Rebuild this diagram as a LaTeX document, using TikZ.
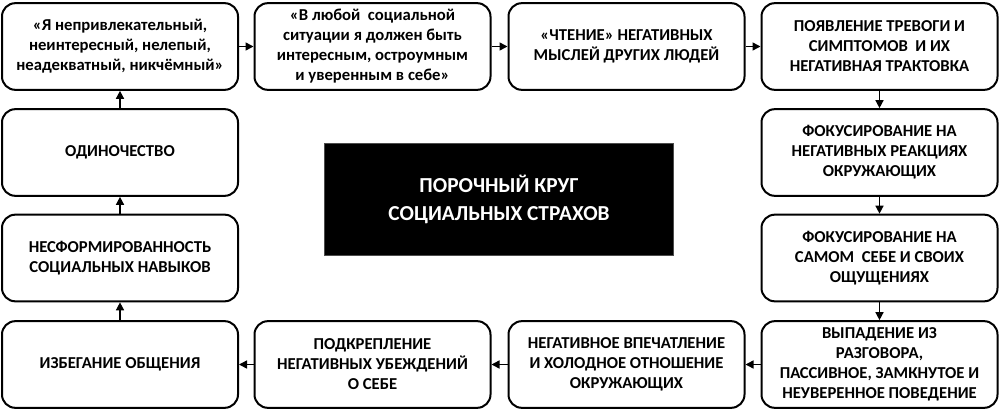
\documentclass[tikz,border=0pt]{standalone}
\usepackage{fontspec}
\setmainfont{Carlito}
\usetikzlibrary{arrows.meta}
\begin{document}
\begin{tikzpicture}[x=0.75pt,y=-0.75pt,
  box/.style={draw=black, line width=1.5pt, rounded corners=10pt, fill=white,
    minimum width=177pt, minimum height=65pt, align=center, inner sep=2pt,
    font=\bfseries\fontsize{12.5}{15}\selectfont},
  core/.style={draw=black!70, line width=0.6pt, fill=black, text=white,
    minimum width=262pt, minimum height=84pt, align=center,
    font=\bfseries\fontsize{16}{21}\selectfont},
  arr/.style={line width=1.1pt, -{Triangle[length=6pt,width=6pt]}}]
\useasboundingbox (0,0) rectangle (1000,414);
\fill[white] (0,0) rectangle (1000,414);
% row 1
\node[box] (a1) at (120,46.5) {«Я непривлекательный,\\неинтересный, нелепый,\\неадекватный, никчёмный»};
\node[box] (a2) at (372.5,46.5) {«В любой\ \ социальной\\ситуации я должен быть\\интересным, остроумным\\и уверенным в себе»};
\node[box] (a3) at (626.5,46.5) {«ЧТЕНИЕ» НЕГАТИВНЫХ\\МЫСЛЕЙ ДРУГИХ ЛЮДЕЙ};
\node[box] (a4) at (879.5,46.5) {ПОЯВЛЕНИЕ ТРЕВОГИ И\\СИМПТОМОВ\ \ И ИХ\\НЕГАТИВНАЯ ТРАКТОВКА};
% row 2
\node[box] (b1) at (120,152.5) {ОДИНОЧЕСТВО};
\node[box] (b4) at (879.5,152.5) {ФОКУСИРОВАНИЕ НА\\НЕГАТИВНЫХ РЕАКЦИЯХ\\ОКРУЖАЮЩИХ};
% row 3
\node[box] (c1) at (120,258) {НЕСФОРМИРОВАННОСТЬ\\СОЦИАЛЬНЫХ НАВЫКОВ};
\node[box] (c4) at (879.5,258) {ФОКУСИРОВАНИЕ НА\\САМОМ\ \ СЕБЕ И СВОИХ\\ОЩУЩЕНИЯХ};
% row 4
\node[box] (d1) at (120,364.5) {ИЗБЕГАНИЕ ОБЩЕНИЯ};
\node[box] (d2) at (372.5,364.5) {ПОДКРЕПЛЕНИЕ\\НЕГАТИВНЫХ УБЕЖДЕНИЙ\\О СЕБЕ};
\node[box] (d3) at (626.5,364.5) {НЕГАТИВНОЕ ВПЕЧАТЛЕНИЕ\\И ХОЛОДНОЕ ОТНОШЕНИЕ\\ОКРУЖАЮЩИХ};
\node[box] (d4) at (879.5,364.5) {ВЫПАДЕНИЕ ИЗ\\РАЗГОВОРА,\\ПАССИВНОЕ, ЗАМКНУТОЕ И\\НЕУВЕРЕННОЕ ПОВЕДЕНИЕ};
% centre
\node[core] (k) at (499,199.5) {ПОРОЧНЫЙ КРУГ\\СОЦИАЛЬНЫХ СТРАХОВ};
% arrows
\draw[arr] (a1) -- (a2);
\draw[arr] (a2) -- (a3);
\draw[arr] (a3) -- (a4);
\draw[arr] (a4) -- (b4);
\draw[arr] (b4) -- (c4);
\draw[arr] (c4) -- (d4);
\draw[arr] (d4) -- (d3);
\draw[arr] (d3) -- (d2);
\draw[arr] (d2) -- (d1);
\draw[arr] (d1) -- (c1);
\draw[arr] (c1) -- (b1);
\draw[arr] (b1) -- (a1);
\end{tikzpicture}
\end{document}
